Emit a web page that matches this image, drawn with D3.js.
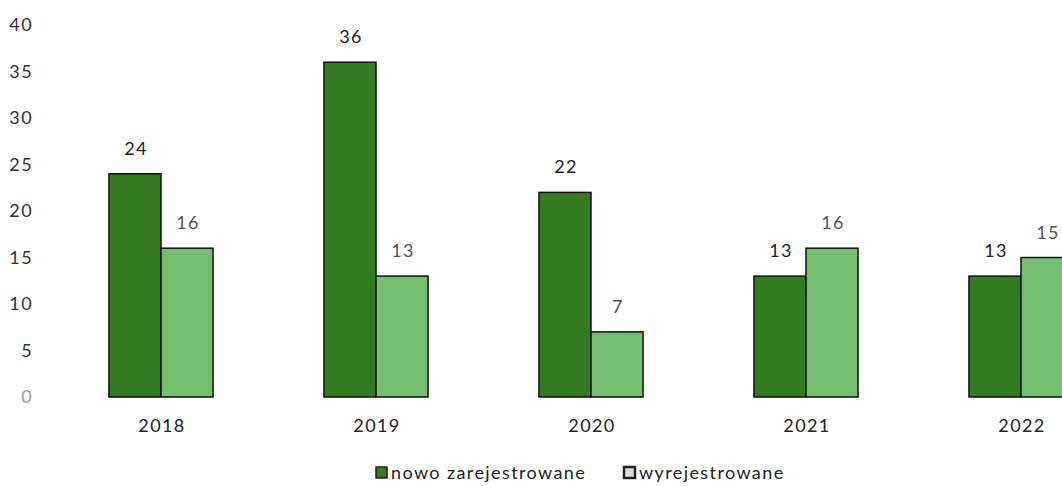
<!doctype html>
<html>
<head>
<style>
  body { margin: 0; background: #fff; }
  text { font-family: Lato, "Open Sans", sans-serif; letter-spacing: 1.4px; }
</style>
<script src="https://d3js.org/d3.v7.min.js"></script>
</head>
<body>
<svg width="1062" height="486"></svg>
<script>
var years = ["2018", "2019", "2020", "2021", "2022"];
var nowo = [24, 36, 22, 13, 13];
var wyrej = [16, 13, 7, 16, 15];
var yTicks = [0, 5, 10, 15, 20, 25, 30, 35, 40];
var seriesNames = ["nowo zarejestrowane", "wyrejestrowane"];
var colors = ["#327c1f", "#74bf6d"];

var svg = d3.select("svg");

var x0 = d3.scaleBand().domain(years).range([53.5, 1128.5])
    .paddingInner(0.516).paddingOuter(0.258);
var x1 = d3.scaleBand().domain([0, 1]).range([0, x0.bandwidth()]);
var y = d3.scaleLinear().domain([0, 40]).range([397, 25]);

// y axis labels
svg.append("g").selectAll("text")
   .data(yTicks)
   .enter().append("text")
   .attr("x", 33)
   .attr("y", function(d) { return y(d); })
   .attr("dy", "0.35em")
   .attr("text-anchor", "end")
   .attr("font-size", "18px")
   .attr("fill", function(d) { return d === 0 ? "#999" : "#333"; })
   .text(function(d) { return d; });

var data = [];
years.forEach(function(yr, i) {
  data.push({ year: yr, s: 0, v: nowo[i] });
  data.push({ year: yr, s: 1, v: wyrej[i] });
});

svg.append("g").selectAll("rect")
   .data(data)
   .enter().append("rect")
   .attr("x", function(d) { return x0(d.year) + x1(d.s); })
   .attr("y", function(d) { return y(d.v); })
   .attr("width", x1.bandwidth())
   .attr("height", function(d) { return y(0) - y(d.v); })
   .attr("fill", function(d) { return colors[d.s]; })
   .attr("stroke", "#111")
   .attr("stroke-width", 1.5);

svg.append("g").selectAll("text")
   .data(data)
   .enter().append("text")
   .attr("x", function(d) { return x0(d.year) + x1(d.s) + x1.bandwidth() / 2 + 1; })
   .attr("y", function(d) { return y(d.v) - 19; })
   .attr("text-anchor", "middle")
   .attr("font-size", "18px")
   .attr("fill", function(d) { return d.s === 0 ? "#222" : "#555"; })
   .text(function(d) { return d.v; });

// category labels
svg.append("g").selectAll("text")
   .data(years)
   .enter().append("text")
   .attr("x", function(d) { return x0(d) + x0.bandwidth() / 2 + 1; })
   .attr("y", 432)
   .attr("text-anchor", "middle")
   .attr("font-size", "18px")
   .attr("fill", "#222")
   .text(function(d) { return d; });

// legend
var legend = svg.append("g");
var legX = [375, 623];
seriesNames.forEach(function(name, i) {
  legend.append("rect")
    .attr("x", legX[i] + 1).attr("y", 467)
    .attr("width", 11).attr("height", 11)
    .attr("fill", i === 0 ? colors[0] : "#ddd")
    .attr("stroke", "#222")
    .attr("stroke-width", i === 0 ? 1.5 : 2.5);
  legend.append("text")
    .attr("x", legX[i] + 16).attr("y", 479)
    .attr("font-size", "18px")
    .attr("fill", "#222")
    .text(name);
});
</script>
</body>
</html>
